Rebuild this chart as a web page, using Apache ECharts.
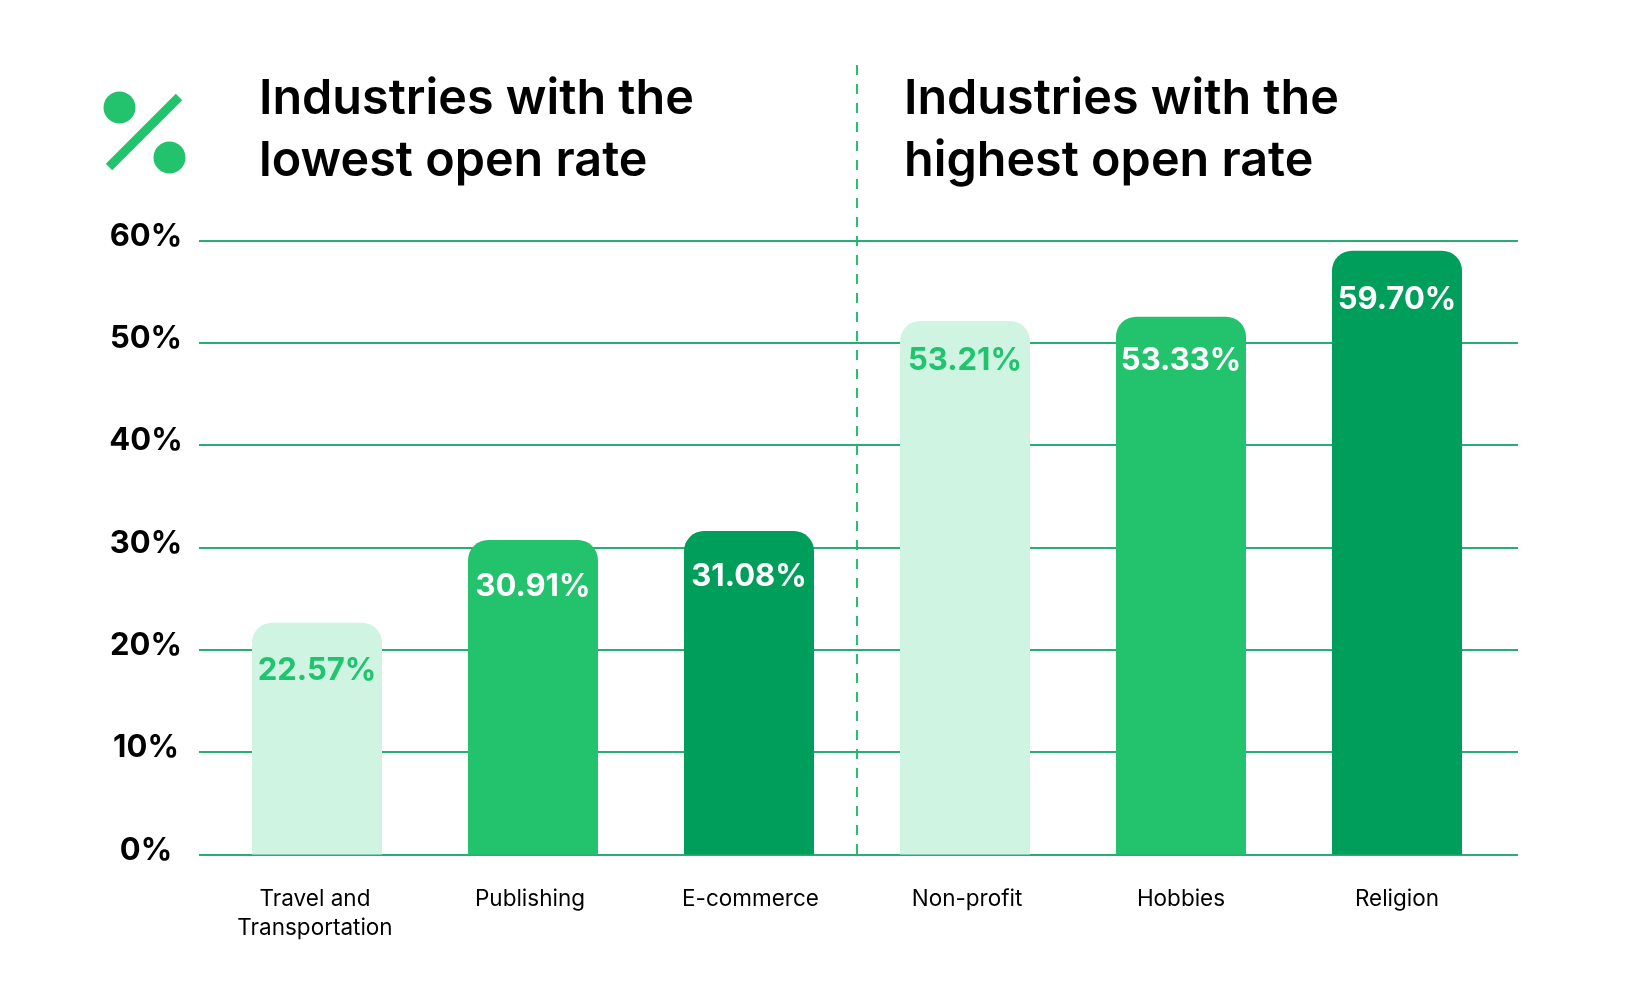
<!DOCTYPE html>
<html>
<head>
<meta charset="utf-8">
<title>Industries open rate</title>
<script src="https://cdn.jsdelivr.net/npm/echarts@6/dist/echarts.min.js"></script>
<style>
    html, body { margin: 0; padding: 0; background: #fff; }
    #box { width: 1628px; height: 999px; }
</style>
</head>
<body>
<div id="box"></div>
<script>
// data
var industries = ['Travel and\nTransportation', 'Publishing', 'E-commerce', 'Non-profit', 'Hobbies', 'Religion'];
// drawn heights of the bars (they sit a little off the printed numbers in the original)
var barHeights = [22.65, 30.73, 31.61, 52.13, 52.55, 59.0];
var printedRates = ['22.57%', '30.91%', '31.08%', '53.21%', '53.33%', '59.70%'];
var axisMax = 60;
var axisStep = 10;
var leftTitle = 'Industries with the\nlowest open rate';
var rightTitle = 'Industries with the\nhighest open rate';

// styles per bar
var barColors = ['#cff4e2', '#23c26c', '#009e5b', '#cff4e2', '#23c26c', '#009e5b'];
var labelColors = ['#20c46e', '#ffffff', '#ffffff', '#20c46e', '#ffffff', '#ffffff'];
var labelDrops = [32, 31, 30, 24, 28, 33];
// the category labels are not quite centred under their bars: [right, left] padding
var categoryPadding = [[0, 4, 0, 0], [0, 6, 0, 0], [0, 0, 0, 3], [0, 0, 0, 4], [0, 0, 0, 0], [0, 0, 0, 0]];

var font = 'Inter, sans-serif';
var green = '#23c26c';
var lineGreen = '#27ae72';

var barData = [];
barHeights.forEach(function (h, i) {
    barData.push({
        value: h,
        itemStyle: { color: barColors[i], borderRadius: [20, 20, 0, 0] },
        label: {
            show: true,
            position: 'insideTop',
            distance: labelDrops[i],
            formatter: printedRates[i],
            color: labelColors[i],
            fontFamily: font,
            fontWeight: 700,
            fontSize: 31
        }
    });
});

var categoryData = [];
industries.forEach(function (name, i) {
    categoryData.push({ value: name, textStyle: { padding: categoryPadding[i] } });
});

var titleStyle = { fontFamily: font, fontWeight: 600, fontSize: 48.5, lineHeight: 62, color: '#000' };

var myChart = echarts.init(document.getElementById('box'));
myChart.setOption({
    animation: false,
    backgroundColor: '#fff',
    title: [
        { text: leftTitle, left: 254, top: 63, textStyle: titleStyle },
        { text: rightTitle, left: 899, top: 63, textStyle: titleStyle }
    ],
    // grid 0 carries the long rules and the % labels, grid 1 the bars
    grid: [
        { left: 199, top: 240.5, width: 1319, height: 614 },
        { left: 209, top: 240.5, width: 1296, height: 614 }
    ],
    xAxis: [
        { gridIndex: 0, type: 'category', data: industries, show: false },
        {
            gridIndex: 1,
            type: 'category',
            data: categoryData,
            axisLine: { show: false },
            axisTick: { show: false },
            axisLabel: {
                margin: 30,
                interval: 0,
                color: '#000',
                fontFamily: font,
                fontSize: 22.5,
                lineHeight: 29
            }
        }
    ],
    yAxis: [
        {
            gridIndex: 0,
            type: 'value',
            min: 0,
            max: axisMax,
            interval: axisStep,
            axisLine: { show: false },
            axisTick: { show: false },
            axisLabel: {
                formatter: '{value}%',
                margin: 53,
                align: 'center',
                verticalAlign: 'bottom',
                lineHeight: 8,
                color: '#000',
                fontFamily: font,
                fontWeight: 700,
                fontSize: 31
            },
            splitLine: { lineStyle: { color: lineGreen, width: 2 } }
        },
        { gridIndex: 1, type: 'value', min: 0, max: axisMax, interval: axisStep, show: false }
    ],
    series: [{
        type: 'bar',
        xAxisIndex: 1,
        yAxisIndex: 1,
        barWidth: 130,
        data: barData
    }],
    graphic: [
        // dashed divider
        {
            type: 'line',
            shape: { x1: 857, y1: 65, x2: 857, y2: 855 },
            style: { stroke: green, lineWidth: 2, lineDash: [10, 9] }
        },
        // percent icon
        { type: 'circle', shape: { cx: 119.5, cy: 107.5, r: 16 }, style: { fill: green } },
        { type: 'circle', shape: { cx: 169.5, cy: 157.5, r: 16 }, style: { fill: green } },
        {
            type: 'line',
            shape: { x1: 109, y1: 167, x2: 179, y2: 97 },
            style: { stroke: green, lineWidth: 9 }
        }
    ]
});
</script>
</body>
</html>
